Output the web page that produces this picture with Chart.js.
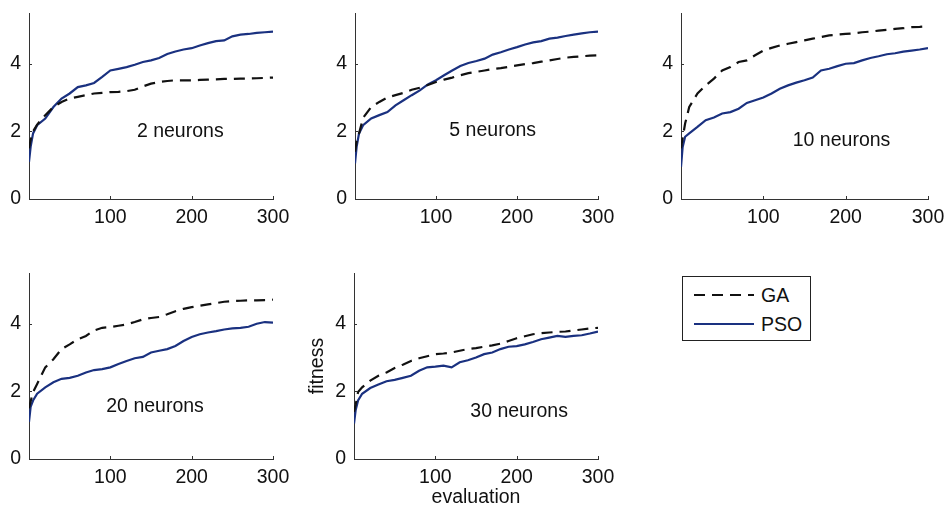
<!DOCTYPE html>
<html>
<head>
<meta charset="utf-8">
<script src="https://cdn.jsdelivr.net/npm/chart.js@4/dist/chart.umd.min.js"></script>
<style>
  html, body { margin: 0; padding: 0; background: #fff; overflow: hidden; }
  body { width: 947px; height: 508px; position: relative; font-family: "Liberation Sans", Arial, sans-serif; }
  .panel { position: absolute; }
  #legend { position: absolute; left: 682px; top: 276px; width: 127px; height: 63px; border: 1px solid #222; box-sizing: content-box; background: #fff; }
  #legend .row { position: absolute; left: 11px; height: 20px; display: flex; align-items: center; font-size: 19.5px; color: #111; }
  #legend svg { margin-right: 7px; }
</style>
</head>
<body>
<canvas id="c1" class="panel"></canvas>
<canvas id="c2" class="panel"></canvas>
<canvas id="c3" class="panel"></canvas>
<canvas id="c4" class="panel"></canvas>
<canvas id="c5" class="panel"></canvas>
<div id="legend">
  <div class="row" style="top:8px"><svg width="60" height="4"><line x1="0" y1="2" x2="60" y2="2" stroke="#111" stroke-width="2.2" stroke-dasharray="11,7"/></svg><span id="lgGA"></span></div>
  <div class="row" style="top:37px"><svg width="60" height="4"><line x1="0" y1="2" x2="60" y2="2" stroke="#1a3180" stroke-width="2"/></svg><span id="lgPSO"></span></div>
</div>
<script>
// ---------------- data ----------------
const seriesNames = ["GA", "PSO"];
const panelLabels = ["2 neurons", "5 neurons", "10 neurons", "20 neurons", "30 neurons"];
const xTicks = [100, 200, 300];
const yTicks = [0, 2, 4];
const evals = [0, 2, 5, 10, 20, 30, 40, 50, 60, 70, 80, 90, 100, 110, 120, 130, 140, 150,
               160, 170, 180, 190, 200, 210, 220, 230, 240, 250, 260, 270, 280, 290, 300];

const ga2  = [1.5, 1.75, 2.0, 2.2, 2.48, 2.72, 2.87, 2.97, 3.02, 3.07, 3.12, 3.14, 3.16, 3.17, 3.19, 3.23, 3.33, 3.41,
              3.46, 3.49, 3.51, 3.51, 3.51, 3.52, 3.53, 3.54, 3.55, 3.55, 3.56, 3.56, 3.57, 3.58, 3.59];
const pso2 = [1.10, 1.54, 1.94, 2.18, 2.38, 2.72, 2.97, 3.12, 3.31, 3.36, 3.43, 3.61, 3.80, 3.85, 3.90, 3.97, 4.05, 4.10,
              4.17, 4.29, 4.36, 4.42, 4.46, 4.54, 4.61, 4.67, 4.69, 4.81, 4.86, 4.88, 4.91, 4.93, 4.95];

const ga5  = [1.4, 1.7, 1.94, 2.4, 2.72, 2.87, 3.0, 3.07, 3.14, 3.23, 3.29, 3.37, 3.46, 3.53, 3.59, 3.66, 3.72, 3.76,
              3.80, 3.84, 3.87, 3.91, 3.95, 3.99, 4.02, 4.06, 4.10, 4.14, 4.18, 4.20, 4.22, 4.24, 4.25];
const pso5 = [1.05, 1.54, 1.94, 2.18, 2.38, 2.48, 2.57, 2.77, 2.92, 3.07, 3.21, 3.39, 3.51, 3.66, 3.80, 3.93, 4.02, 4.08,
              4.15, 4.27, 4.34, 4.42, 4.49, 4.57, 4.63, 4.67, 4.74, 4.77, 4.82, 4.86, 4.90, 4.93, 4.95];

const ga10  = [1.5, 1.8, 2.23, 2.72, 3.12, 3.36, 3.56, 3.80, 3.90, 4.05, 4.10, 4.25, 4.39, 4.47, 4.54, 4.59, 4.64, 4.69,
               4.74, 4.79, 4.84, 4.86, 4.88, 4.90, 4.93, 4.95, 4.98, 5.00, 5.03, 5.05, 5.08, 5.09, 5.11];
const pso10 = [0.95, 1.54, 1.84, 1.94, 2.13, 2.33, 2.41, 2.53, 2.57, 2.67, 2.84, 2.92, 3.00, 3.12, 3.26, 3.36, 3.44, 3.51,
               3.59, 3.80, 3.85, 3.93, 4.00, 4.02, 4.10, 4.17, 4.22, 4.28, 4.31, 4.36, 4.39, 4.42, 4.46];

const ga20  = [1.5, 1.7, 1.98, 2.22, 2.71, 2.95, 3.25, 3.39, 3.54, 3.64, 3.80, 3.88, 3.90, 3.94, 3.98, 4.05, 4.13, 4.17,
               4.20, 4.28, 4.37, 4.44, 4.49, 4.53, 4.57, 4.61, 4.65, 4.67, 4.68, 4.69, 4.69, 4.70, 4.71];
const pso20 = [1.10, 1.54, 1.73, 1.93, 2.12, 2.27, 2.37, 2.40, 2.46, 2.56, 2.63, 2.66, 2.71, 2.81, 2.90, 2.98, 3.02, 3.15,
               3.20, 3.25, 3.34, 3.49, 3.61, 3.69, 3.74, 3.78, 3.83, 3.86, 3.88, 3.91, 4.00, 4.05, 4.03];

const ga30  = [1.4, 1.6, 1.98, 2.12, 2.32, 2.46, 2.56, 2.69, 2.79, 2.90, 2.98, 3.04, 3.10, 3.12, 3.15, 3.20, 3.25, 3.28,
               3.32, 3.36, 3.41, 3.49, 3.57, 3.63, 3.69, 3.72, 3.74, 3.76, 3.77, 3.80, 3.83, 3.86, 3.88];
const pso30 = [1.05, 1.44, 1.73, 1.93, 2.10, 2.20, 2.30, 2.34, 2.40, 2.46, 2.61, 2.71, 2.73, 2.76, 2.71, 2.86, 2.92, 3.00,
               3.10, 3.15, 3.25, 3.32, 3.34, 3.39, 3.46, 3.54, 3.59, 3.64, 3.61, 3.64, 3.66, 3.71, 3.77];

// label anchor positions in data units (x = evaluation, y = fitness)
const labelX = [186, 170, 195, 155, 203];
const labelY = [1.98, 2.03, 1.74, 1.54, 1.39];

// ---------------- layout ----------------
const FONT = '"Liberation Sans", Arial, sans-serif';
const FS = 19.5;
const TXT = '#111';
const AXIS = '#333';
const PSO_COLOR = '#1a3180';
const panels = [
  { id: 'c1', l: 29,  t: 13,  r: 273, b: 199, ml: 29, mb: 36 },
  { id: 'c2', l: 355, t: 13,  r: 598, b: 199, ml: 40, mb: 36 },
  { id: 'c3', l: 681, t: 13,  r: 928, b: 199, ml: 40, mb: 36 },
  { id: 'c4', l: 29,  t: 273, r: 273, b: 459, ml: 29, mb: 36 },
  { id: 'c5', l: 354, t: 273, r: 598, b: 459, ml: 54, mb: 49, titles: true }
];
const MT = 10, MR = 22;
const gaSets  = [ga2, ga5, ga10, ga20, ga30];
const psoSets = [pso2, pso5, pso10, pso20, pso30];

document.getElementById('lgGA').textContent = seriesNames[0];
document.getElementById('lgPSO').textContent = seriesNames[1];

const toPts = (vals) => evals.map((x, i) => ({ x: x, y: vals[i] }));

const innerTicks = {
  id: 'innerTicks',
  afterDraw(chart) {
    const ctx = chart.ctx, xs = chart.scales.x, ys = chart.scales.y, a = chart.chartArea;
    ctx.save();
    ctx.strokeStyle = AXIS; ctx.lineWidth = 1;
    ctx.beginPath();
    xs.ticks.forEach(tk => { const px = Math.round(xs.getPixelForValue(tk.value)) + 0.5; ctx.moveTo(px, a.bottom); ctx.lineTo(px, a.bottom - 3); });
    ys.ticks.forEach(tk => { const py = Math.round(ys.getPixelForValue(tk.value)) + 0.5; ctx.moveTo(a.left, py); ctx.lineTo(a.left + 3, py); });
    ctx.stroke();
    ctx.restore();
  }
};
const panelLabel = {
  id: 'panelLabel',
  afterDatasetsDraw(chart, args, opts) {
    const ctx = chart.ctx;
    ctx.save();
    ctx.font = FS + 'px ' + FONT;
    ctx.fillStyle = TXT;
    ctx.textAlign = 'center';
    ctx.textBaseline = 'middle';
    ctx.fillText(opts.text, chart.scales.x.getPixelForValue(opts.x), chart.scales.y.getPixelForValue(opts.y));
    ctx.restore();
  }
};

panels.forEach((p, i) => {
  const cv = document.getElementById(p.id);
  const w = (p.r - p.l) + p.ml + MR;
  const h = (p.b - p.t) + MT + p.mb;
  cv.style.left = (p.l - p.ml) + 'px';
  cv.style.top = (p.t - MT) + 'px';
  cv.style.width = w + 'px';
  cv.style.height = h + 'px';
  cv.width = w; cv.height = h;

  new Chart(cv, {
    type: 'line',
    data: {
      datasets: [
        { label: seriesNames[0], data: toPts(gaSets[i]), borderColor: '#111', borderWidth: 2.2,
          borderDash: [11, 7], pointRadius: 0, tension: 0, fill: false },
        { label: seriesNames[1], data: toPts(psoSets[i]), borderColor: PSO_COLOR, borderWidth: 2.2,
          pointRadius: 0, tension: 0, fill: false }
      ]
    },
    options: {
      responsive: false,
      animation: false,
      events: [],
      layout: { padding: { left: 0, top: MT, right: MR, bottom: 0 } },
      plugins: {
        legend: { display: false },
        tooltip: { enabled: false },
        panelLabel: { text: panelLabels[i], x: labelX[i], y: labelY[i] }
      },
      scales: {
        x: {
          type: 'linear', min: 0, max: 300,
          grid: { display: false, drawTicks: false },
          border: { display: true, color: AXIS, width: 1 },
          ticks: { color: TXT, font: { size: FS, family: FONT }, padding: 7, maxRotation: 0 },
          afterBuildTicks: s => { s.ticks = xTicks.map(v => ({ value: v })); },
          afterFit: s => { s.height = p.mb; s.paddingLeft = 0; s.paddingRight = 0; s.paddingTop = 0; s.paddingBottom = 0; },
          title: { display: !!p.titles, text: 'evaluation', color: TXT, font: { size: FS, family: FONT, lineHeight: 1 }, padding: { top: 0, bottom: 1 } }
        },
        y: {
          type: 'linear', min: 0, max: 5.5,
          grid: { display: false, drawTicks: false },
          border: { display: true, color: AXIS, width: 1 },
          ticks: { color: TXT, font: { size: FS, family: FONT }, padding: 8 },
          afterBuildTicks: s => { s.ticks = yTicks.map(v => ({ value: v })); },
          afterFit: s => { s.width = p.ml; s.paddingLeft = 0; s.paddingRight = 0; s.paddingTop = 0; s.paddingBottom = 0; },
          title: { display: !!p.titles, text: 'fitness', color: TXT, font: { size: FS, family: FONT, lineHeight: 1 }, padding: { top: 8, bottom: 0 } }
        }
      }
    },
    plugins: [innerTicks, panelLabel]
  });
});
</script>
</body>
</html>
